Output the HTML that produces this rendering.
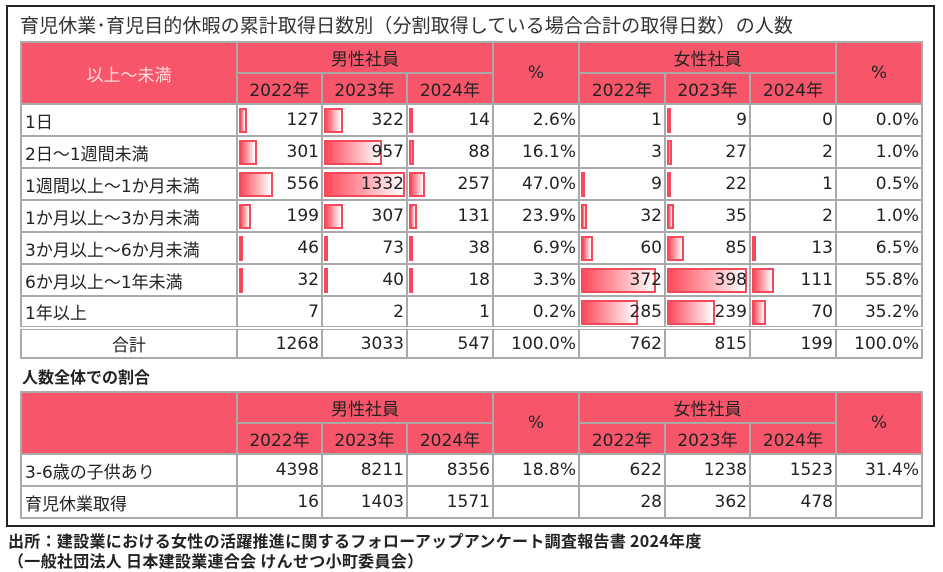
<!DOCTYPE html>
<html><head><meta charset="utf-8"><style>
*{margin:0;padding:0;box-sizing:border-box}
body{width:943px;height:571px;background:#fff;position:relative;font-family:"DejaVu Sans","Noto Sans CJK JP",sans-serif;color:#222;overflow:hidden}
.box{position:absolute;left:6px;top:5px;width:929px;height:522px;border:2px solid #222}
.title{position:absolute;left:20px;top:11px;font-size:19px;color:#333;white-space:nowrap;font-family:"Noto Sans CJK JP",sans-serif;letter-spacing:0.1px}
table{position:absolute;left:20px;border-collapse:collapse;table-layout:fixed;font-size:17px}
td{border:2px solid #aaa;height:32px;padding:0 2px;text-align:right;position:relative;white-space:nowrap}
td.l{text-align:left;padding-left:3px}
.h td{background:#f7566a;text-align:center;height:31px;color:#222}
.h td.w{color:#fdd}
.b{position:absolute;left:1px;top:3px;height:25px;border:2px solid #f24a5a;background:linear-gradient(to right,#ff4a5a,#fff)}
td span{position:relative}
tr.tot td{border-top:4px double #aaa;height:30px}
.sub{position:absolute;left:22px;top:364px;font-weight:bold;font-size:16px}
.src{position:absolute;left:8px;font-weight:bold;font-size:16px;white-space:nowrap;font-family:"Noto Sans CJK JP",sans-serif;letter-spacing:0.3px}
</style></head><body>
<div class="box"></div>
<div class="title">育児休業･育児目的休暇の累計取得日数別（分割取得している場合合計の取得日数）の人数</div>
<table style="top:41px">
<colgroup><col style="width:216px"><col style="width:85px"><col style="width:85px"><col style="width:86px"><col style="width:86px"><col style="width:86px"><col style="width:85px"><col style="width:86px"><col style="width:86px"></colgroup>
<tr class="h"><td rowspan="2" class="w">以上～未満</td><td colspan="3">男性社員</td><td rowspan="2">%</td><td colspan="3">女性社員</td><td rowspan="2">%</td></tr>
<tr class="h"><td>2022年</td><td>2023年</td><td>2024年</td><td>2022年</td><td>2023年</td><td>2024年</td></tr>
<tr><td class="l">1日</td><td><div class="b" style="width:8px"></div><span>127</span></td><td><div class="b" style="width:19px"></div><span>322</span></td><td><div class="b" style="width:2px"></div><span>14</span></td><td>2.6%</td><td><span>1</span></td><td><div class="b" style="width:2px"></div><span>9</span></td><td>0</td><td>0.0%</td></tr>
<tr><td class="l">2日～1週間未満</td><td><div class="b" style="width:18px"></div><span>301</span></td><td><div class="b" style="width:58px"></div><span>957</span></td><td><div class="b" style="width:5px"></div><span>88</span></td><td>16.1%</td><td><span>3</span></td><td><div class="b" style="width:5px"></div><span>27</span></td><td>2</td><td>1.0%</td></tr>
<tr><td class="l">1週間以上～1か月未満</td><td><div class="b" style="width:34px"></div><span>556</span></td><td><div class="b" style="width:81px"></div><span>1332</span></td><td><div class="b" style="width:16px"></div><span>257</span></td><td>47.0%</td><td><div class="b" style="width:2px"></div><span>9</span></td><td><div class="b" style="width:4px"></div><span>22</span></td><td>1</td><td>0.5%</td></tr>
<tr><td class="l">1か月以上～3か月未満</td><td><div class="b" style="width:12px"></div><span>199</span></td><td><div class="b" style="width:19px"></div><span>307</span></td><td><div class="b" style="width:8px"></div><span>131</span></td><td>23.9%</td><td><div class="b" style="width:6px"></div><span>32</span></td><td><div class="b" style="width:7px"></div><span>35</span></td><td>2</td><td>1.0%</td></tr>
<tr><td class="l">3か月以上～6か月未満</td><td><div class="b" style="width:3px"></div><span>46</span></td><td><div class="b" style="width:4px"></div><span>73</span></td><td><div class="b" style="width:2px"></div><span>38</span></td><td>6.9%</td><td><div class="b" style="width:12px"></div><span>60</span></td><td><div class="b" style="width:17px"></div><span>85</span></td><td><div class="b" style="width:3px"></div><span>13</span></td><td>6.5%</td></tr>
<tr><td class="l">6か月以上～1年未満</td><td><div class="b" style="width:2px"></div><span>32</span></td><td><div class="b" style="width:2px"></div><span>40</span></td><td><div class="b" style="width:1px"></div><span>18</span></td><td>3.3%</td><td><div class="b" style="width:75px"></div><span>372</span></td><td><div class="b" style="width:80px"></div><span>398</span></td><td><div class="b" style="width:22px"></div><span>111</span></td><td>55.8%</td></tr>
<tr><td class="l">1年以上</td><td>7</td><td>2</td><td>1</td><td>0.2%</td><td><div class="b" style="width:57px"></div><span>285</span></td><td><div class="b" style="width:48px"></div><span>239</span></td><td><div class="b" style="width:14px"></div><span>70</span></td><td>35.2%</td></tr>
<tr class="tot"><td style="text-align:center">合計</td><td>1268</td><td>3033</td><td>547</td><td>100.0%</td><td>762</td><td>815</td><td>199</td><td>100.0%</td></tr>
</table>
<div class="sub">人数全体での割合</div>
<table style="top:391px">
<colgroup><col style="width:216px"><col style="width:85px"><col style="width:85px"><col style="width:86px"><col style="width:86px"><col style="width:86px"><col style="width:85px"><col style="width:86px"><col style="width:86px"></colgroup>
<tr class="h"><td rowspan="2"></td><td colspan="3">男性社員</td><td rowspan="2">%</td><td colspan="3">女性社員</td><td rowspan="2">%</td></tr>
<tr class="h"><td>2022年</td><td>2023年</td><td>2024年</td><td>2022年</td><td>2023年</td><td>2024年</td></tr>
<tr><td class="l">3-6歳の子供あり</td><td>4398</td><td>8211</td><td>8356</td><td>18.8%</td><td>622</td><td>1238</td><td>1523</td><td>31.4%</td></tr>
<tr><td class="l">育児休業取得</td><td>16</td><td>1403</td><td>1571</td><td></td><td>28</td><td>362</td><td>478</td><td></td></tr>
</table>
<div class="src" style="top:528px">出所：建設業における女性の活躍推進に関するフォローアップアンケート調査報告書 2024年度</div>
<div class="src" style="top:548px">（一般社団法人 日本建設業連合会 けんせつ小町委員会）</div>
</body></html>
